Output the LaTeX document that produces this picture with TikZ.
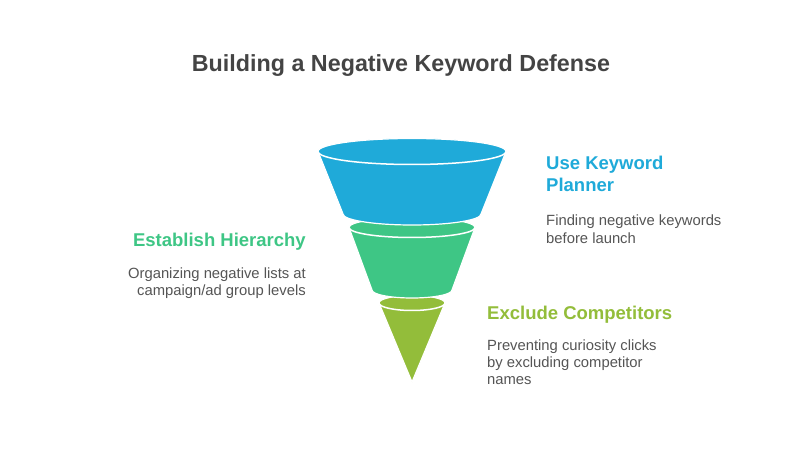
\documentclass[tikz,border=0pt]{standalone}
\usepackage{fontspec}
\setmainfont{Liberation Sans}
\definecolor{fblue}{HTML}{1FAAD9}
\definecolor{fgreen}{HTML}{3EC685}
\definecolor{flime}{HTML}{93BD3A}
\definecolor{ttlgray}{HTML}{444444}
\definecolor{dgray}{HTML}{555555}
\begin{document}
\begin{tikzpicture}[x=1pt,y=1pt,
  seg/.style={draw=white, line width=1.2pt, line join=round},
  rim/.style={draw=white, line width=1.5pt},
  head/.style={inner sep=0pt, font=\fontsize{18.5}{22}\selectfont\bfseries},
  desctext/.style={inner sep=0pt, text=dgray, font=\fontsize{14.8}{18}\selectfont}]
\useasboundingbox[fill=white] (0,0) rectangle (800,450);

% title
\node[anchor=base, inner sep=0pt, text=ttlgray, font=\fontsize{23.3}{28}\selectfont\bfseries] (title) at (401,378) {Building a Negative Keyword Defense};

% lime segment
\path[seg, fill=flime] (379,147) arc[start angle=180, end angle=0, x radius=33pt, y radius=7.5pt] -- (412,68) -- cycle;
\draw[rim] (379,147) arc[start angle=180, end angle=360, x radius=33pt, y radius=7.5pt];

% green segment
\path[seg, fill=fgreen] (349,222.5) arc[start angle=180, end angle=0, x radius=63pt, y radius=10pt] -- (452,160) arc[start angle=0, end angle=-180, x radius=40pt, y radius=8pt] -- cycle;
\draw[rim] (349,222.5) arc[start angle=180, end angle=360, x radius=63pt, y radius=10pt];

% blue segment
\path[seg, fill=fblue] (318,298.5) arc[start angle=180, end angle=0, x radius=94pt, y radius=13pt] -- (481,236) arc[start angle=0, end angle=-180, x radius=69pt, y radius=11pt] -- cycle;
\draw[rim] (318,298.5) arc[start angle=180, end angle=360, x radius=94pt, y radius=13pt];

% Use Keyword Planner
\node[head, text=fblue, anchor=base west] (h1a) at (546,280) {Use Keyword};
\node[head, text=fblue, anchor=base west] (h1b) at (546,258) {Planner};
\node[desctext, anchor=base west] (d1a) at (546,224.5) {Finding negative keywords};
\node[desctext, anchor=base west] (d1b) at (546,206.5) {before launch};

% Establish Hierarchy
\node[head, text=fgreen, anchor=base east] (h2) at (306,203) {Establish Hierarchy};
\node[desctext, anchor=base east] (d2a) at (306,171.5) {Organizing negative lists at};
\node[desctext, anchor=base east] (d2b) at (306,154) {campaign/ad group levels};

% Exclude Competitors
\node[head, text=flime, anchor=base west] (h3) at (487,130.5) {Exclude Competitors};
\node[desctext, anchor=base west] (d3a) at (487,100) {Preventing curiosity clicks};
\node[desctext, anchor=base west] (d3b) at (487,83) {by excluding competitor};
\node[desctext, anchor=base west] (d3c) at (487,66) {names};
\end{tikzpicture}
\end{document}
